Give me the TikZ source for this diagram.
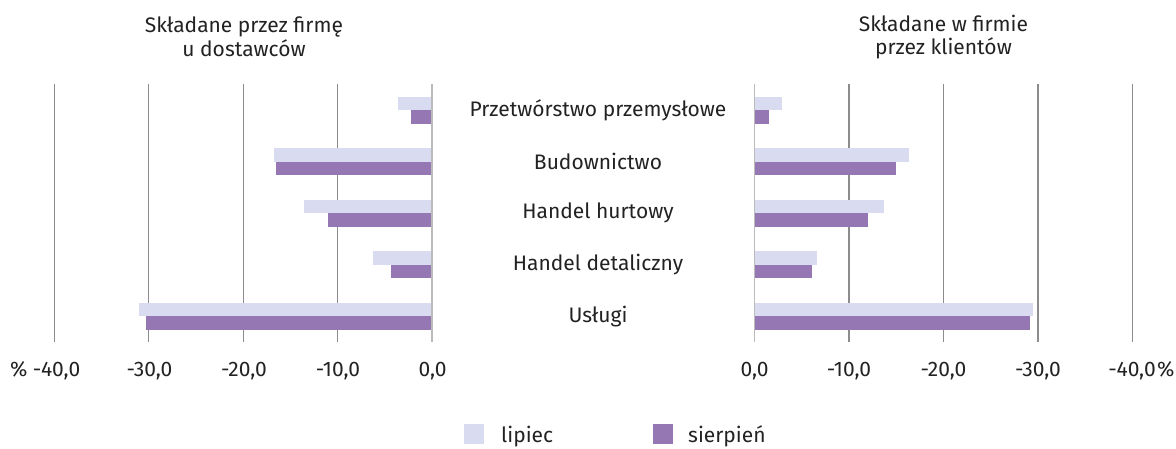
\documentclass[tikz,border=0pt]{standalone}
\usepackage{fontspec}
\setmainfont{Fira Sans}
\definecolor{lip}{HTML}{D9DBF0}
\definecolor{sie}{HTML}{9477B3}
\definecolor{txt}{HTML}{222222}
\definecolor{grid}{HTML}{8C8C8C}
\definecolor{zgrid}{HTML}{BBBBBB}
\tikzset{
  lab/.style={font=\fontsize{21}{23.5}\selectfont, text=txt, inner sep=0pt},
  gridline/.style={draw=grid, line width=1.2pt},
  zeroline/.style={draw=zgrid, line width=1.6pt},
  lipbar/.style={fill=lip},
  siebar/.style={fill=sie},
}
\begin{document}
\begin{tikzpicture}[x=1pt,y=-1pt]
\useasboundingbox (0,0) rectangle (1176,449);
\fill[white] (0,0) rectangle (1176,449);
% grid lines
\foreach \gx in {54.3,148.8,243.3,337.8}{\draw[gridline] (\gx,84) -- (\gx,342);}
\foreach \gx in {849,943.5,1038,1132.5}{\draw[gridline] (\gx,84) -- (\gx,342);}
% bars left (zero at 432, 9.45 per unit)
\def\s{9.45}
\foreach \i/\a/\b in {0/3.6/2.2, 1/16.7/16.5, 2/13.5/11.0, 3/6.2/4.3, 4/31.0/30.3}{
  \pgfmathsetmacro{\t}{97+51.5*\i}
  \fill[lipbar] (432-\a*\s,\t) rectangle (432,\t+13.3);
  \fill[siebar] (432-\b*\s,\t+13.3) rectangle (432,\t+26.6);
}
\foreach \i/\a/\b in {0/2.9/1.5, 1/16.4/15.0, 2/13.7/12.0, 3/6.6/6.1, 4/29.5/29.2}{
  \pgfmathsetmacro{\t}{97+51.5*\i}
  \fill[lipbar] (754.5,\t) rectangle (754.5+\a*\s,\t+13.3);
  \fill[siebar] (754.5,\t+13.3) rectangle (754.5+\b*\s,\t+26.6);
}
\draw[zeroline] (432,84) -- (432,342);
\draw[zeroline] (754.5,84) -- (754.5,342);
% titles
\node[lab, align=center] (tl) at (244,37) {Składane przez firmę\\u dostawców};
\node[lab, align=center] (tr) at (943.5,37) {Składane w firmie\\przez klientów};
% categories
\node[lab] (c1) at (598,110.3) {Przetwórstwo przemysłowe};
\node[lab] (c2) at (598,161.8) {Budownictwo};
\node[lab] (c3) at (598,213.3) {Handel hurtowy};
\node[lab] (c4) at (598,264.8) {Handel detaliczny};
\node[lab] (c5) at (598,316.3) {Usługi};
% axis labels
\node[lab, anchor=base] (l40) at (56.5,376) {-40,0};
\node[lab, anchor=base east] (lpct) at ([xshift=-5pt]l40.base west) {\%};
\node[lab, anchor=base] (l30) at (149.5,376) {-30,0};
\node[lab, anchor=base] (l20) at (244,376) {-20,0};
\node[lab, anchor=base] (l10) at (338,376) {-10,0};
\node[lab, anchor=base] (l0) at (432.5,376) {0,0};
\node[lab, anchor=base] (r0) at (754.5,376) {0,0};
\node[lab, anchor=base] (r10) at (849,376) {-10,0};
\node[lab, anchor=base] (r20) at (943.5,376) {-20,0};
\node[lab, anchor=base] (r30) at (1038,376) {-30,0};
\node[lab, anchor=base] (r40) at (1132,376) {-40,0};
\node[lab, anchor=base west] (rpct) at ([xshift=1pt]r40.base east) {\%};
% legend
\fill[lipbar] (464,424) rectangle (484,444);
\node[lab, anchor=base west] (leg1) at (501,442) {lipiec};
\fill[siebar] (653,424) rectangle (673,444);
\node[lab, anchor=base west] (leg2) at (688,442) {sierpień};
\end{tikzpicture}
\end{document}
